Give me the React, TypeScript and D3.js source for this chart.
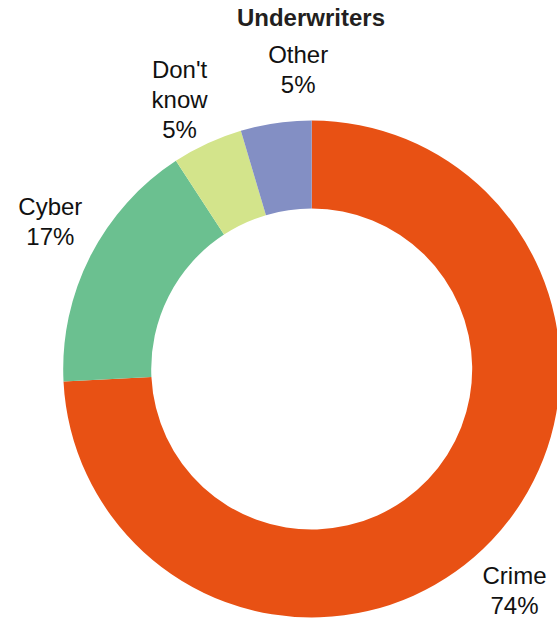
import React from "react";
import * as d3 from "d3";

const categories = ["Crime", "Cyber", "Don't know", "Other"];
const values = [74.2, 16.6, 4.6, 4.6];
const colors = ["#E85114", "#6BC090", "#D3E48B", "#838FC4"];
const title = "Underwriters";

// layout tweaks for label placement (degrees added to slice mid-angle)
const labelAngleShift = [3.9, 2.4, -1.3, 5.7];

const W = 557;
const H = 618;
const cx = 311.7;
const cy = 369;
const outerR = 248.5;
const innerR = 160.5;
const labelR = 300;
const lineH = 30;
const fontSize = 24;

function wrapLabel(name: string, pct: string): string[] {
  if (name === "Don't know") return ["Don't", "know", pct];
  return [name, pct];
}

export default function App() {
  const data = categories.map((c, i) => ({ name: c, value: values[i], color: colors[i] }));
  const pie = d3
    .pie<{ name: string; value: number; color: string }>()
    .sort(null)
    .value((d) => d.value)
    .startAngle(0)
    .endAngle(2 * Math.PI);
  const arcs = pie(data);
  const arc = d3
    .arc<d3.PieArcDatum<{ name: string; value: number; color: string }>>()
    .innerRadius(innerR)
    .outerRadius(outerR);
  const total = d3.sum(values);

  return (
    <svg
      width={W}
      height={H}
      style={{ position: "absolute", left: 0, top: 0, display: "block", background: "#fff" }}
      fontFamily="'Liberation Sans', Arial, Helvetica, sans-serif"
    >
      <text x={311} y={26} textAnchor="middle" fontSize={24} fontWeight="bold" fill="#231F20">
        {title}
      </text>
      <g transform={`translate(${cx},${cy})`}>
        {arcs.map((a, i) => (
          <path key={i} d={arc(a) || ""} fill={a.data.color} />
        ))}
        {arcs.map((a, i) => {
          const mid = (a.startAngle + a.endAngle) / 2 + (labelAngleShift[i] * Math.PI) / 180;
          const x = labelR * Math.sin(mid);
          const y = -labelR * Math.cos(mid);
          const pct = `${Math.round((a.data.value / total) * 100)}%`;
          const lines = wrapLabel(a.data.name, pct);
          const firstBase = y - ((lines.length - 1) * lineH) / 2 + 8.5;
          return (
            <text key={"l" + i} textAnchor="middle" fontSize={fontSize} fill="#111">
              {lines.map((ln, j) => (
                <tspan key={j} x={x} y={firstBase + j * lineH}>
                  {ln}
                </tspan>
              ))}
            </text>
          );
        })}
      </g>
    </svg>
  );
}
